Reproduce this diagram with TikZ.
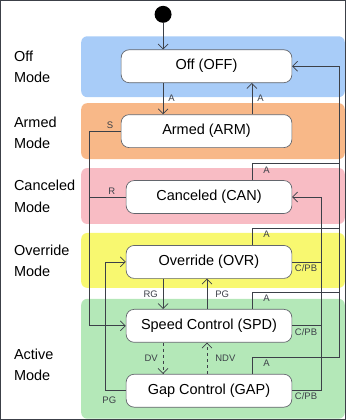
\documentclass[tikz,border=0pt]{standalone}
\usepackage{fontspec}
\setmainfont{Liberation Sans}
\usetikzlibrary{arrows.meta,positioning}

\definecolor{offblue}{RGB}{168,204,248}
\definecolor{armorange}{RGB}{248,184,136}
\definecolor{canpink}{RGB}{248,188,196}
\definecolor{ovryellow}{RGB}{248,248,112}
\definecolor{actgreen}{RGB}{180,232,184}
\definecolor{linegray}{RGB}{60,64,72}

\begin{document}
\begin{tikzpicture}[x=1pt,y=-1pt,
    statebox/.style={draw=linegray!80,fill=white,rounded corners=8pt,line width=0.7pt,
      minimum height=33pt,font=\fontsize{14.5}{17}\selectfont},
    modeband/.style={rounded corners=6pt},
    modelbl/.style={anchor=west,align=left,font=\fontsize{14.5}{21.5}\selectfont},
    edgelbl/.style={font=\fontsize{9.5}{11}\selectfont,text=linegray,inner sep=2pt},
    >={Straight Barb[length=5pt,width=10pt]},
    every path/.style={draw=linegray,line width=0.7pt}]
  \useasboundingbox (0,0) rectangle (346,420);

  % mode bands
  \foreach \c/\t/\b in {offblue/36/97, armorange/103/159, canpink/168/224,
                         ovryellow/233/288, actgreen/299/419} {
    \fill[\c,modeband,draw=none] (81,\t) rectangle (345,\b);
  }

  % mode names
  \node[modelbl] (offtxt) at (10,66.5) {Off\\Mode};
  \node[modelbl] (armtxt) at (10,132.5) {Armed\\Mode};
  \node[modelbl] (cantxt) at (10,196.5) {Canceled\\Mode};
  \node[modelbl] (ovrtxt) at (10,261) {Override\\Mode};
  \node[modelbl] (acttxt) at (10,365) {Active\\Mode};

  % states
  \node[statebox,minimum width=171pt] (off) at (206.5,66) {Off (OFF)};
  \node[statebox,minimum width=171pt] (arm) at (206.5,131) {Armed (ARM)};
  \node[statebox,minimum width=166pt] (can) at (209,197) {Canceled (CAN)};
  \node[statebox,minimum width=166pt] (ovr) at (209,262) {Override (OVR)};
  \node[statebox,minimum width=166pt] (spd) at (209,326) {Speed Control (SPD)};
  \node[statebox,minimum width=166pt] (gap) at (209,391) {Gap Control (GAP)};

  % initial state
  \node[circle,fill=black,draw=none,minimum size=17pt,inner sep=0pt] (init) at (163,14) {};

  % columns of the connectors
  \coordinate (lcol) at (163,0);
  \coordinate (rcol) at (207,0);
  \coordinate (atap) at (252,0);
  \coordinate (leftbus) at (89,0);
  \coordinate (pgbus) at (105,0);
  \coordinate (cpbus) at (322,0);
  \coordinate (abus) at (340,0);

  % vertical transitions
  \draw[->] (init) -- (off.north -| lcol);
  \draw[->] (off.south -| lcol) -- node[edgelbl,right=3pt] {A} (arm.north -| lcol);
  \draw[->] (arm.north -| atap) -- node[edgelbl,right=3pt] {A} (off.south -| atap);
  \draw[->] (ovr.south -| lcol) -- node[edgelbl,left=3pt] {RG} (spd.north -| lcol);
  \draw[->] (spd.north -| rcol) -- node[edgelbl,right=6pt] {PG} (ovr.south -| rcol);
  \draw[->,dashed] (spd.south -| lcol) -- node[edgelbl,left=3pt] {DV} (gap.north -| lcol);
  \draw[->,dashed] (gap.north -| rcol) -- node[edgelbl,right=6pt] {NDV} (spd.south -| rcol);

  % left side: S, R and PG
  \draw[->] (arm.west) -- node[edgelbl,above,pos=0.34] {S} (arm.west -| leftbus) |- (spd.west);
  \draw (can.west) -- node[edgelbl,above,pos=0.38] {R} (can.west -| leftbus);
  \draw[->] (gap.west) -- node[edgelbl,below=4pt,pos=0.8] {PG} (gap.west -| pgbus) |- (ovr.west);

  % right side: A back to OFF
  \foreach \s in {can,ovr,spd,gap} {
    \draw (\s.north -| atap) -- ++(0,-17) coordinate (a\s)
      node[edgelbl,below right=1pt and 9pt] {A} -- (a\s -| abus);
  }
  \draw[->] (agap -| abus) |- (off.east);

  % right side: C/PB back to CAN
  \foreach \s in {ovr,spd,gap} {
    \draw (\s.east) -- node[edgelbl,below,xshift=-1pt] {C/PB} (\s.east -| cpbus);
  }
  \draw[->] (gap.east -| cpbus) |- (can.east);
\end{tikzpicture}
\end{document}
